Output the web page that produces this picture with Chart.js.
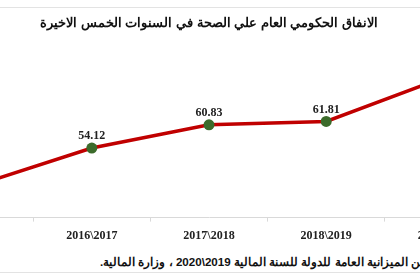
<!DOCTYPE html>
<html>
<head>
<meta charset="utf-8">
<script src="https://cdn.jsdelivr.net/npm/chart.js@4.4.1/dist/chart.umd.min.js"></script>
<style>
  html, body { margin: 0; padding: 0; background: #fff; }
  body { width: 420px; height: 280px; position: relative; overflow: hidden; }
  #wrap { position: absolute; left: -94px; top: 3px; width: 606px; height: 250px; }
  .rule { position: absolute; left: 0; width: 420px; height: 1px; background: #e3e3e3; }
  #source {
    position: absolute; left: 100px; top: 255px; white-space: nowrap;
    direction: rtl; font: bold 11.6px "Liberation Sans", Arial, sans-serif; color: #111;
  }
</style>
</head>
<body>
<div class="rule" style="top:7px"></div>
<div id="wrap"><canvas id="chart"></canvas></div>
<div id="source">المصدر: البيان المالي عن الميزانية العامة للدولة للسنة المالية 2019\2020 ، وزارة المالية.</div>
<div class="rule" style="top:272px"></div>
<script>
// données du graphique
const years = ["2015\\2016", "2016\\2017", "2017\\2018", "2018\\2019", "2019\\2020"];
const spending = [43.2, 54.12, 60.83, 61.81, 74.5];
const titleText = "الانفاق الحكومي العام علي الصحة في السنوات الخمس الاخيرة";

// étiquettes au-dessus des points
const pointLabels = {
    id: "pointLabels",
    afterDatasetsDraw(chart) {
        const ctx = chart.ctx;
        const meta = chart.getDatasetMeta(0);
        ctx.save();
        ctx.font = "bold 12px 'Liberation Serif', serif";
        ctx.fillStyle = "#222";
        ctx.textAlign = "center";
        ctx.textBaseline = "middle";
        meta.data.forEach((pt, i) => {
            ctx.fillText(spending[i].toFixed(2), pt.x, pt.y - 12);
        });
        ctx.restore();
    }
};

new Chart(document.getElementById("chart"), {
    type: "line",
    data: {
        labels: years,
        datasets: [{
            data: spending,
            borderColor: "#c00000",
            borderWidth: 3.5,
            tension: 0,
            pointRadius: 5.5,
            pointBackgroundColor: "#3c6b2b",
            pointBorderColor: "#3c6b2b",
            pointBorderWidth: 0
        }]
    },
    options: {
        responsive: true,
        maintainAspectRatio: false,
        animation: false,
        layout: { padding: { left: 10, right: 10, top: 0, bottom: 3 } },
        plugins: {
            legend: { display: false },
            tooltip: { enabled: false },
            title: {
                display: true,
                text: titleText,
                color: "#111",
                font: { family: "'Liberation Sans', Arial, sans-serif", size: 13, weight: "bold" },
                padding: { top: 13, bottom: 27 }
            }
        },
        scales: {
            x: {
                offset: true,
                grid: { offset: true, drawOnChartArea: false, drawTicks: true, tickLength: 4, color: "#d9d9d9" },
                border: { color: "#d9d9d9" },
                ticks: {
                    padding: 7,
                    color: "#222",
                    font: { family: "'Liberation Serif', serif", size: 12, weight: "bold" }
                }
            },
            y: {
                display: false,
                min: 34,
                max: 80
            }
        }
    },
    plugins: [pointLabels]
});
</script>
</body>
</html>
